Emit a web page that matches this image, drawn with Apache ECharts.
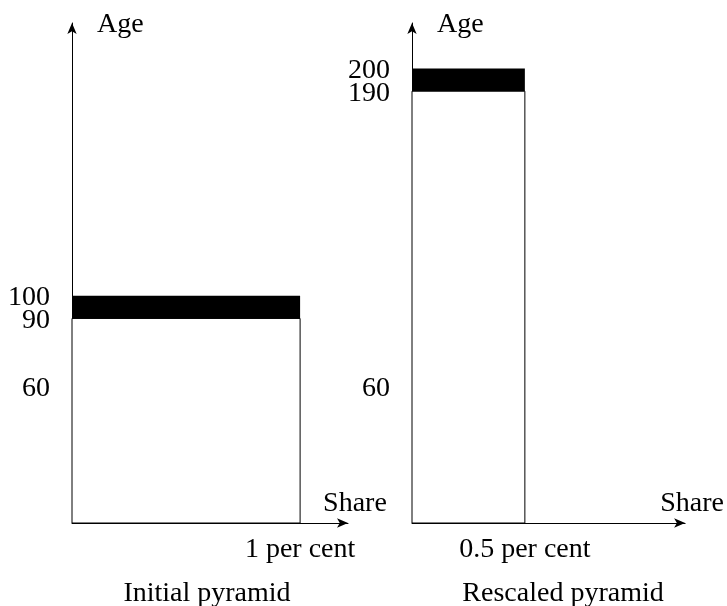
<!DOCTYPE html>
<html>
<head>
<meta charset="utf-8">
<script src="https://cdn.jsdelivr.net/npm/echarts@6/dist/echarts.min.js"></script>
<style>
html,body{margin:0;padding:0;background:#fff;}
#c{width:727px;height:606px;}
</style>
</head>
<body>
<div id="c"></div>
<script>
// ---- data ----
const panelTitles = ['Initial pyramid', 'Rescaled pyramid'];
const leftBandStart = [0, 90];
const leftBandEnd = [90, 100];
const leftShare = [1, 1];
const rightBandStart = [0, 190];
const rightBandEnd = [190, 200];
const rightShare = [0.5, 0.5];
const leftAgeTicks = [60, 90, 100];
const rightAgeTicks = [60, 190, 200];
const leftShareTicks = [1];
const rightShareTicks = [0.5];
const ageAxisName = 'Age';
const shareAxisName = 'Share';
const shareUnit = ' per cent';

// ---- build ----
const FONT = '"Liberation Serif", "DejaVu Serif", serif';
const FS = 28;
const bands = (s, e, v) => s.map((st, i) => [st, e[i], v[i]]);

function renderBand(params, api) {
  const p0 = api.coord([0, api.value(0)]);
  const p1 = api.coord([api.value(2), api.value(1)]);
  const top = params.dataIndex === params.dataInsideLength - 1;
  return {
    type: 'rect',
    shape: { x: p0[0], y: p1[1], width: p1[0] - p0[0], height: p0[1] - p1[1] },
    style: top ? { fill: '#000', stroke: null } : { fill: '#fff', stroke: '#000', lineWidth: 1 },
    z2: top ? 2 : 1
  };
}

function xAxis(idx, ticks) {
  return {
    type: 'value', gridIndex: idx, min: 0, max: 1.21,
    name: shareAxisName, nameLocation: 'end', nameGap: 7, nameMoveOverlap: false,
    nameTextStyle: { fontFamily: FONT, fontSize: FS, color: '#000', align: 'center', verticalAlign: 'bottom', padding: [0, 0, 5, 0] },
    axisLine: { show: true, lineStyle: { color: '#000', width: 1 }, symbol: ['none', 'arrow'], symbolSize: [7, 11] },
    axisTick: { show: false },
    splitLine: { show: false },
    axisLabel: { customValues: ticks, showMinLabel: true, showMaxLabel: true, hideOverlap: false, formatter: v => v + shareUnit, fontFamily: FONT, fontSize: FS, color: '#000', margin: 13 }
  };
}
function yAxis(idx, ticks, main) {
  return {
    type: 'value', gridIndex: idx, min: 0, max: 220, position: 'left', offset: 0,
    name: main ? ageAxisName : '', nameLocation: 'end', nameGap: -2, nameMoveOverlap: false,
    nameTextStyle: { fontFamily: FONT, fontSize: FS, color: '#000', align: 'left', verticalAlign: 'middle', padding: [0, 0, 0, 25] },
    axisLine: { show: main, onZero: false, lineStyle: { color: '#000', width: 1 }, symbol: ['none', 'arrow'], symbolSize: [7, 11] },
    axisTick: { show: false },
    splitLine: { show: false },
    axisLabel: { customValues: ticks, showMinLabel: true, showMaxLabel: true, hideOverlap: false, fontFamily: FONT, fontSize: FS, color: '#000', margin: 22, verticalAlign: 'top', lineHeight: 4 }
  };
}

const option = {
  animation: false,
  backgroundColor: '#fff',
  title: [
    { text: panelTitles[0], left: 207, top: 580, padding: 0, textAlign: 'center', textStyle: { fontFamily: FONT, fontSize: FS, fontWeight: 'normal', color: '#000' } },
    { text: panelTitles[1], left: 563, top: 580, padding: 0, textAlign: 'center', textStyle: { fontFamily: FONT, fontSize: FS, fontWeight: 'normal', color: '#000' } }
  ],
  grid: [
    { left: 72, top: 23, width: 276, height: 500 },
    { left: 412, top: 23, width: 276, height: 500 }
  ],
  xAxis: [xAxis(0, leftShareTicks), xAxis(1, rightShareTicks)],
  // the highest age label sits on a companion axis so that close labels are all kept
  yAxis: [
    yAxis(0, leftAgeTicks.slice(0, -1), true),
    yAxis(1, rightAgeTicks.slice(0, -1), true),
    yAxis(0, leftAgeTicks.slice(-1), false),
    yAxis(1, rightAgeTicks.slice(-1), false)
  ],
  series: [
    { type: 'custom', xAxisIndex: 0, yAxisIndex: 0, renderItem: renderBand, data: bands(leftBandStart, leftBandEnd, leftShare), clip: false },
    { type: 'custom', xAxisIndex: 1, yAxisIndex: 1, renderItem: renderBand, data: bands(rightBandStart, rightBandEnd, rightShare), clip: false }
  ]
};
const chart = echarts.init(document.getElementById('c'), null, { renderer: 'canvas' });
chart.setOption(option);
</script>
</body>
</html>
